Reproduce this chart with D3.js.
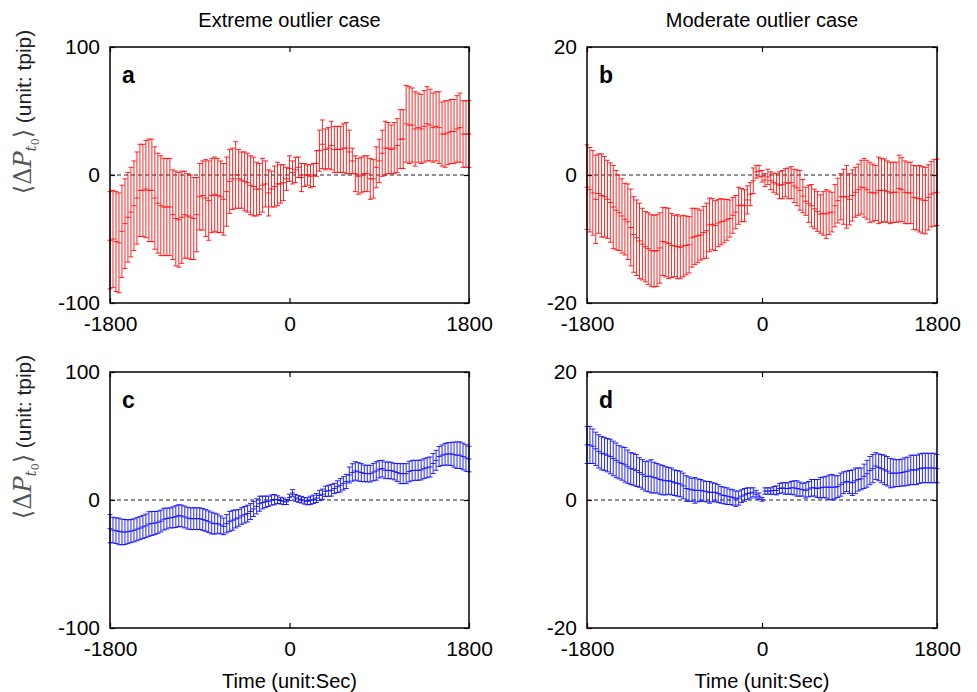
<!DOCTYPE html>
<html>
<head>
<meta charset="utf-8">
<script src="https://cdnjs.cloudflare.com/ajax/libs/d3/7.8.5/d3.min.js"></script>
<style>
    body { margin: 0; background: #fff; }
    text { font-family: Arial, "Liberation Sans", sans-serif; }
</style>
</head>
<body>
<svg id="chart" width="977" height="692"></svg>
<script>
// time grid (sec) and the axis ticks
var timeSec = d3.range(-1800, 1801, 30);
var timeTicks = [-1800, 0, 1800];
var extremeTicks = [-100, 0, 100];
var moderateTicks = [-20, 0, 20];
var columnTitles = ["Extreme outlier case", "Moderate outlier case"];
var panelLetters = ["a", "b", "c", "d"];

// panel a : extreme, red
var meanA = [-51,-50,-52,-53,-44,-38,-33,-29,-24,-18,-12,-12,-11,-12,-12,-18,-22,-24,-25,-25,
    -25,-31,-34,-35,-33,-31,-32,-33,-34,-31,-17,-16,-18,-20,-16,-15,-16,-17,-19,-13,
    -5,-3,0,-3,-4,-5,-6,-8,-9,-11,-11,-8,-7,-14,-11,-9,-7,-7,-6,-3,
    5,2,4,6,-2,0,0,-1,0,9,19,24,20,21,23,20,20,20,21,21,
    18,11,1,-1,0,1,1,-3,-3,6,11,17,21,21,20,21,23,28,28,40,
    39,39,36,37,36,38,40,39,37,38,37,32,32,33,34,34,36,37,32,32,32];
var errA = [38,38,39,39,36,35,35,35,35,36,36,36,38,40,40,40,39,39,38,38,
    38,35,37,37,36,34,33,33,32,29,26,27,30,31,29,29,29,28,28,27,
    25,24,26,23,22,23,23,23,23,21,20,21,18,18,14,16,17,15,14,9,
    10,9,10,8,11,9,8,9,9,10,16,19,16,16,19,18,18,18,19,20,
    17,10,14,14,14,14,14,16,15,16,17,18,21,20,19,20,21,23,23,30,
    30,29,29,27,27,28,29,28,27,27,28,25,26,25,25,25,26,27,26,26,26];

// panel b : moderate, red
var meanB = [-1.9,-2.3,-2.8,-3.8,-2.9,-3.2,-3.4,-3.8,-4.3,-5.0,-5.5,-5.9,-6.4,-6.9,-7.3,-8.2,-9.3,-9.8,-10.3,-10.8,
    -11.2,-11.5,-11.8,-11.9,-11.8,-11.4,-10.4,-10.5,-10.7,-11.0,-11.1,-11.2,-11.3,-11.1,-11.0,-10.9,-9.8,-9.6,-9.5,-9.4,
    -9.0,-8.7,-7.8,-7.7,-7.9,-7.5,-7.3,-7.2,-7.0,-6.8,-6.3,-5.8,-4.8,-4.7,-4.8,-3.9,-3.0,-0.9,0.5,0.6,
    -0.2,-0.8,-0.3,-0.9,-1.2,-1.4,-1.6,-1.5,-1.2,-1.3,-1.2,-1.7,-2.0,-2.4,-3.3,-4.1,-4.5,-4.8,-5.3,-5.7,
    -6.1,-6.0,-6.1,-5.9,-5.8,-4.8,-4.0,-3.4,-3.4,-3.4,-3.8,-3.2,-2.7,-2.3,-1.9,-2.0,-2.3,-2.7,-2.8,-2.8,
    -2.4,-2.4,-2.4,-2.6,-2.8,-2.7,-2.7,-2.1,-2.3,-2.7,-2.8,-2.8,-3.5,-3.6,-3.7,-3.9,-4.0,-3.5,-3.0,-2.8,-2.7];
var errB = [6.6,6.6,6.6,6.9,6.2,6.5,6.3,6.1,6.2,6.5,6.2,5.9,5.8,5.6,5.9,6.0,5.9,5.9,5.9,5.6,
    5.5,5.6,5.6,5.6,5.6,5.5,5.3,5.4,5.5,5.0,4.8,5.0,4.9,4.8,4.6,4.4,4.6,4.4,4.2,3.9,
    4.1,4.3,4.2,4.0,3.9,3.7,3.6,3.4,3.2,2.9,2.8,2.6,2.9,2.6,2.5,2.2,1.8,2.0,1.0,0.9,
    0.9,1.0,1.2,1.4,1.5,1.6,2.1,2.2,2.2,2.4,2.5,2.6,2.8,3.1,2.6,2.2,2.9,3.3,3.1,3.1,
    3.0,3.4,3.8,3.4,3.1,3.3,3.5,3.6,4.3,4.9,4.0,4.0,3.9,4.0,4.2,4.6,4.6,4.7,4.5,4.3,
    5.2,5.0,4.9,4.8,4.8,4.7,4.7,5.2,5.0,4.9,4.8,4.8,5.0,5.0,5.2,5.2,5.2,5.1,5.1,5.2,5.2];

// panel c : extreme, blue
var meanC = [-22.4,-23.5,-24,-24.5,-25,-25,-24.8,-24.3,-23.7,-22.8,-22,-21,-20.2,-18.8,-18.3,-18,-17.4,-16.5,-15,-14.5,
    -14,-13.6,-13,-12.2,-12.5,-13.3,-14.2,-14.6,-14.6,-14.6,-14.6,-15.2,-16,-17,-18,-18.5,-18.5,-19.5,-20.6,-18.5,
    -16.7,-15.8,-14.8,-14,-12.5,-11.5,-10.6,-9,-7,-5,-2.9,-2,-1.4,-1,0,0.3,0.3,-0.5,-1,-1.5,
    2,5.5,1.6,0.8,0.2,-0.6,-1,-0.3,0.5,1.5,3.5,4.5,6.8,7.2,7.6,9,10.4,11.5,13,14.5,
    19.5,21.5,22.7,22,21.4,20.8,20.6,20.6,21.8,22.7,24,24.5,23.2,23.2,23,22.2,21.5,20.6,20.6,20.6,
    22.2,23,23.2,23.2,23.5,24.5,25.2,25.8,28.5,31,34,35,35.7,36,36,35.4,35,35,34,32.8,32];
var errC = [11,10,10,10.4,10,9.8,9.3,9,9,9,9,9,9.2,9.6,9.4,9,8.7,8.5,8.5,8.2,
    7.8,8.2,8.5,8.5,8.5,8.5,8.5,8.5,8.5,8.5,8.5,8.5,8.5,8.5,8.5,8.2,7.5,7,6.5,7.2,
    7.8,7.8,7,6.5,6.5,6.5,6.5,6.2,5.9,5.9,5.9,5,4.5,4,4,4,3,2.6,2.6,2,
    2.5,2.6,2.6,2.6,2.6,2.6,2.8,3.3,3.3,3.5,4,4,4,4.3,4.6,4,4.6,5.2,5.2,5.5,
    6.2,6.8,7.2,7.2,7,6.5,6.5,6.5,6.8,7.2,6.8,6.5,6.5,6.5,6.5,6.5,7,7.8,7.8,7.8,
    8,8,7.8,7.8,7.8,7.8,7.8,7.8,7.8,7.8,7.8,8,8.5,8.8,9,9.8,10.4,10.4,10.4,10.4,10];

// panel d : moderate, blue
var meanD = [8.6,8.6,8.4,8.0,7.6,7.3,7.2,7.0,6.8,6.5,6.2,5.9,5.7,5.5,5.2,4.9,4.8,4.6,4.3,4.0,
    3.7,3.7,3.7,3.5,3.4,3.2,3.1,3.0,3.0,2.9,2.7,2.6,2.5,2.2,1.8,1.7,1.6,1.5,1.5,1.5,
    1.4,1.3,1.2,1.2,1.2,1.0,0.8,0.7,0.6,0.5,0.4,0.2,0.3,0.6,0.8,1.0,1.1,1.2,0.9,0.6,
    0.1,1.4,1.4,1.4,1.5,1.5,1.8,1.9,1.8,1.8,1.9,1.9,1.8,1.7,1.6,1.5,1.7,1.9,1.9,1.8,
    1.9,2.0,2.0,2.0,2.0,2.0,2.1,2.4,2.7,2.9,2.8,2.7,3.0,3.2,3.3,3.7,4.1,4.6,4.9,5.3,
    5.1,4.9,4.7,4.5,4.2,4.2,4.2,4.2,4.3,4.4,4.5,4.7,4.7,4.7,4.9,5.0,5.0,5.0,5.0,5.0,4.9];
var errD = [2.9,2.9,2.7,2.6,2.6,2.6,2.6,2.6,2.7,2.7,2.7,2.6,2.6,2.7,2.6,2.5,2.5,2.5,2.3,2.3,
    2.3,2.4,2.6,2.4,2.3,2.3,2.3,2.2,2.1,2.1,2.0,2.0,2.0,2.0,2.0,1.9,1.8,2.0,1.8,1.7,
    1.6,1.6,1.7,1.5,1.4,1.4,1.3,1.3,1.3,1.2,1.2,1.2,1.1,1.0,1.0,0.9,0.8,0.7,0.6,0.5,
    0.3,0.5,0.5,0.5,0.6,0.7,0.8,0.8,0.9,0.9,1.0,1.1,1.2,1.1,1.0,1.2,1.2,1.3,1.3,1.4,
    1.6,1.6,1.7,1.9,2.0,1.8,1.7,1.8,1.7,1.6,1.8,2.0,2.0,1.8,1.7,1.9,2.1,2.2,2.2,2.1,
    2.1,2.2,2.3,2.3,2.3,2.2,2.1,2.1,2.1,2.2,2.2,2.3,2.3,2.3,2.3,2.3,2.3,2.3,2.3,2.3,2.2];

var svg = d3.select("#chart");

svg.append("rect")
        .attr("width", 977)
        .attr("height", 692)
        .attr("fill", "#fff");

var panels = [
    {letter: panelLetters[0], mean: meanA, err: errA, ticks: extremeTicks, color: "#ff0000", left: 110, top: 47, w: 359, col: 0, row: 0},
    {letter: panelLetters[1], mean: meanB, err: errB, ticks: moderateTicks, color: "#ff0000", left: 587, top: 47, w: 350, col: 1, row: 0},
    {letter: panelLetters[2], mean: meanC, err: errC, ticks: extremeTicks, color: "#0000ff", left: 110, top: 372, w: 359, col: 0, row: 1},
    {letter: panelLetters[3], mean: meanD, err: errD, ticks: moderateTicks, color: "#0000ff", left: 587, top: 372, w: 350, col: 1, row: 1}
];

panels.forEach(drawPanel);

/**
 * Draws one panel: frame, zero line, error bars, ticks and labels
 * @param {object} p panel settings
 */
function drawPanel(p)
{
    var h = 256;
    var g = svg.append("g").attr("transform", "translate(" + p.left + "," + p.top + ")");

    var x = d3.scaleLinear().domain([-1800, 1800]).range([0, p.w]);
    var y = d3.scaleLinear().domain([p.ticks[0], p.ticks[2]]).range([h, 0]);

    var plain = function(d) { return String(d); };

    // ticks: labels on bottom / left, inward marks on all sides
    g.append("g")
            .attr("transform", "translate(0," + h + ")")
            .call(d3.axisBottom(x).tickValues(timeTicks).tickSize(-5).tickPadding(13).tickFormat(plain))
            .call(styleAxis);
    g.append("g")
            .call(d3.axisTop(x).tickValues(timeTicks).tickSize(-5).tickFormat(""))
            .call(styleAxis);
    g.append("g")
            .call(d3.axisLeft(y).tickValues(p.ticks).tickSize(-5).tickPadding(10).tickFormat(plain))
            .call(styleAxis);
    g.append("g")
            .attr("transform", "translate(" + p.w + ",0)")
            .call(d3.axisRight(y).tickValues(p.ticks).tickSize(-5).tickFormat(""))
            .call(styleAxis);

    // dashed zero line
    g.append("line")
            .attr("x1", 0)
            .attr("x2", p.w)
            .attr("y1", y(0))
            .attr("y2", y(0))
            .style("stroke", "#222")
            .style("stroke-width", "1.2px")
            .style("stroke-dasharray", "4,3");

    // error bars with caps and a mean mark
    var pts = timeSec.map(function(t, i) {
        return {t: t, m: p.mean[i], e: p.err[i]};
    });

    g.append("g")
            .selectAll("path")
            .data(pts)
            .join("path")
            .style("stroke", p.color)
            .style("fill", "none")
            .style("stroke-width", "1px")
            .style("stroke-opacity", 0.85)
            .attr("d", function(d) {
                var cx = x(d.t), y0 = y(d.m + d.e), y1 = y(d.m - d.e), ym = y(d.m);
                return "M" + cx + "," + y0 + "V" + y1 +
                        "M" + (cx - 2.5) + "," + y0 + "h5" +
                        "M" + (cx - 2.5) + "," + y1 + "h5" +
                        "M" + (cx - 2.5) + "," + ym + "h5";
            });

    // frame
    g.append("rect")
            .attr("width", p.w)
            .attr("height", h)
            .style("fill", "none")
            .style("stroke", "#000")
            .style("stroke-width", "1.5px");

    // panel letter
    g.append("text")
            .attr("x", 12)
            .attr("y", 36)
            .style("font-size", "23px")
            .style("font-weight", "bold")
            .text(p.letter);

    var cx = p.left + p.w / 2;
    if (p.row === 0) {
        svg.append("text")
                .attr("x", cx)
                .attr("y", 27)
                .attr("text-anchor", "middle")
                .style("font-size", "20px")
                .text(columnTitles[p.col]);
    } else {
        svg.append("text")
                .attr("x", cx)
                .attr("y", 688)
                .attr("text-anchor", "middle")
                .style("font-size", "20px")
                .text("Time (unit:Sec)");
    }

    if (p.col === 0) {
        drawYLabel(p.top + 65);
    }
}

/**
 * Sets fonts and strokes for an axis group
 * @param {object} a axis selection
 */
function styleAxis(a)
{
    a.select(".domain").remove();
    a.selectAll("line").style("stroke", "#000").style("stroke-width", "1.2px");
    a.selectAll("text")
            .style("font-size", "21px")
            .style("font-family", "Arial, 'Liberation Sans', sans-serif")
            .style("fill", "#000");
}

/**
 * Rotated y label: <ΔP_t0> (unit: tpip)
 * @param {number} cy vertical centre
 */
function drawYLabel(cy)
{
    var t = svg.append("text")
            .attr("transform", "translate(31," + cy + ") rotate(-90)")
            .attr("text-anchor", "middle")
            .style("font-size", "21px");

    t.append("tspan")
            .style("font-family", "'DejaVu Serif', serif")
            .style("font-size", "24px")
            .style("fill", "#555")
            .text("\u27E8\u0394");
    t.append("tspan")
            .style("font-family", "'DejaVu Serif', serif")
            .style("font-style", "italic")
            .style("font-size", "24px")
            .style("fill", "#555")
            .text("P");
    t.append("tspan")
            .attr("dy", 5)
            .style("font-family", "'DejaVu Serif', serif")
            .style("font-style", "italic")
            .style("font-size", "15px")
            .style("fill", "#555")
            .text("t");
    t.append("tspan")
            .attr("dy", 3)
            .style("font-family", "'DejaVu Serif', serif")
            .style("font-size", "11px")
            .style("fill", "#555")
            .text("0");
    t.append("tspan")
            .attr("dy", -8)
            .style("font-family", "'DejaVu Serif', serif")
            .style("font-size", "24px")
            .style("fill", "#555")
            .text("\u27E9");
    t.append("tspan")
            .style("fill", "#222")
            .text(" (unit: tpip)");
}
</script>
</body>
</html>
